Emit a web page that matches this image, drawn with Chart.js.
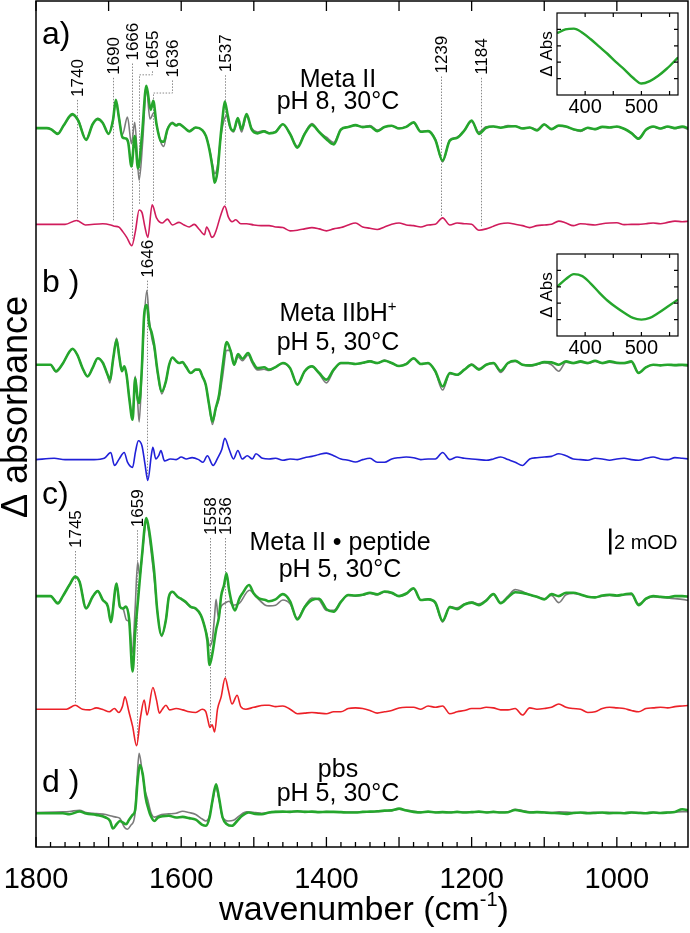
<!DOCTYPE html>
<html>
<head>
<meta charset="utf-8">
<script src="https://cdn.jsdelivr.net/npm/chart.js@4.4.0/dist/chart.umd.min.js"></script>
<style>
  html, body { margin: 0; padding: 0; background: #fff; }
  #wrap { position: relative; width: 690px; height: 933px; }
  canvas { position: absolute; }
</style>
</head>
<body>
<div id="wrap">
  <canvas id="main" width="690" height="933" style="left:0;top:0"></canvas>
  <canvas id="insetA" width="170" height="125" style="left:520px;top:3px"></canvas>
  <canvas id="insetB" width="170" height="125" style="left:520px;top:244px"></canvas>
</div>
<script>
// ---- spectra, in mOD ----
// left part (1800-1479 cm-1): wavenumbers + values, one pair per trace
const aFitWn = [1800,1785,1779,1770,1762,1750,1742,1731,1722,1715,1708,1700,1694,1690,1686,1681,1676,1673,1668.5,1664,1659.5,1654,1648,1642,1638.5,1634,1628,1624,1619,1612,1607,1603,1596,1589,1580,1571,1566,1561,1557,1554,1550,1546,1543,1540,1536,1532,1528,1522,1517,1510,1503,1495,1486,1479];
const aFitAbs = [0,0,-0.1,-0.44,0.2,1.08,0.6,-0.9,0.3,0.69,0.4,-0.44,0.6,2.18,0.9,-0.7,-0.8,-1.1,-2.95,-0.6,-3.1,-0.5,3.25,1.4,2.1,0.3,-1.0,-1.05,-0.1,0.38,0.2,0.3,0.05,-0.25,0.05,-0.15,-0.6,-1.7,-3.0,-4.2,-3.3,-0.8,0.8,2.05,1.0,0.0,-0.2,0.77,-0.1,1.08,-0.1,-0.4,-0.25,-0.4];
const aRawWn = [1800,1785,1779,1770,1762,1750,1742,1731,1722,1715,1708,1700,1694,1690,1686,1681,1674,1668.5,1664,1658,1653,1648,1643,1637.5,1633,1628,1624,1619,1612,1607,1603,1596,1589,1580,1571,1566,1561,1557,1554,1550,1546,1542,1538,1533,1528,1522,1517,1510,1503,1495,1486,1479];
const aRawAbs = [0,0,-0.1,-0.4,0.2,1.0,0.65,-0.85,0.3,0.75,0.4,-0.45,0.6,2.0,0.9,-0.5,0.85,-1.2,0.45,-4.0,-1.0,3.1,0.7,1.2,0.0,-1.1,-1.4,-0.1,0.45,0.25,0.35,0.05,-0.2,0.05,-0.15,-0.6,-1.6,-2.8,-3.5,-2.9,-0.9,0.4,0.95,0.1,-0.3,0.6,-0.3,0.9,0.0,-0.3,-0.2,-0.35];
const aDiffWn = [1800,1760,1744,1732,1708,1697,1692,1686,1680,1675,1668,1663,1658,1654,1650,1646,1640,1634,1626,1619,1612,1603,1596,1589,1582,1575,1568,1565,1561,1558,1555,1552,1545,1540,1535,1530,1525,1518,1510,1500,1490,1479];
const aDiffAbs = [0,0,0.3,-0.05,0.05,-0.05,-0.15,-0.2,-0.6,-1.0,-1.65,-0.5,1.1,0.9,-0.2,-1.0,1.5,0.5,0.1,0.4,-0.05,0.15,-0.05,-0.2,0.0,-0.4,-0.8,-0.2,-0.6,-1.0,-0.9,-0.5,0.8,1.4,0.55,0.2,0.35,0.05,0.05,-0.05,-0.1,-0.1];

const bFitWn = [1800,1780,1772.5,1763,1754,1749.6,1743,1736,1729,1722,1715,1708,1701.4,1698.2,1693.6,1689,1685.4,1681.7,1678.5,1675.3,1671.6,1667,1663.4,1660.2,1657.9,1654.2,1651,1647.3,1644.1,1640.4,1637.2,1632.6,1626.7,1621.2,1616.6,1612,1607.4,1602.8,1598.3,1593.7,1586.8,1580,1575.3,1570.8,1566.2,1561.6,1557,1552.4,1547.8,1543.2,1537.3,1531.8,1527.2,1521.7,1515.7,1507.9,1502,1495.1,1485.9,1479];
const bFitAbs = [0,0,-0.5,0.1,1.0,1.23,0.75,-0.25,-0.9,-0.25,0.5,0.15,-0.77,-1.15,0.5,1.92,0.65,-0.5,-0.13,-0.77,-2.56,-4.23,-1.03,-2.56,-2.95,-0.26,3.85,4.6,3.1,2.4,1.5,-0.5,-2.05,-1.3,0.0,0.56,0.3,0.13,0.2,-0.13,-0.64,-0.38,-0.38,-0.9,-1.54,-3.08,-4.36,-3.33,-2.3,-0.26,1.74,1.03,0.0,0.82,0.46,0.9,0.26,-0.26,-0.2,-0.38];
const bRawAbs = [0,0,-0.56,0.1,1.0,1.2,0.75,-0.25,-0.9,-0.25,0.5,0.15,-0.8,-1.4,0.5,2.05,0.65,-0.5,-0.26,-0.77,-2.5,-4.1,-0.9,-2.7,-4.4,-0.5,3.5,5.7,3.5,2.0,1.3,-0.6,-2.25,-1.3,0.0,0.56,0.3,0.13,0.2,-0.13,-0.64,-0.38,-0.4,-0.9,-1.54,-3.1,-4.6,-3.4,-2.6,-1.0,1.1,1.1,0.0,0.6,0.3,0.75,0.1,-0.4,-0.35,-0.45];
const bDiffWn = [1800,1775,1760,1720,1706,1697,1692,1686,1678.5,1674,1667,1663,1659,1654,1650,1646,1641,1639,1635,1631,1628,1623,1615,1607,1600,1593,1585,1576,1570,1564,1556,1550,1544,1540,1534,1528,1522,1516,1509,1502,1497,1488,1479];
const bDiffAbs = [0,0.1,0,0,0.1,0.55,-0.45,0.0,0.55,-0.2,-0.6,0.6,1.45,1.05,-0.3,-1.6,0.4,0.95,0.05,0.3,0.7,-0.1,0.05,0.0,0.2,0.05,0.15,0.0,-0.2,0.3,-0.45,0.1,0.8,1.64,0.8,0.05,0.7,0.05,0.3,0.05,0.45,0.1,0.05];

const cFitWn = [1800,1780,1770,1763,1754,1746,1740,1731,1722,1715,1708,1701,1697,1689,1684.5,1680,1676,1671.6,1667,1663.4,1659,1654.2,1648,1644,1640,1637,1633,1627,1621,1617,1612,1605,1601,1594,1587,1580,1573,1569,1564,1561,1557,1552,1548,1545,1541,1537.7,1534,1529.5,1526,1520,1515.7,1506.6,1500,1493,1484,1479];
const cFitAbs = [0,0,-0.56,0.0,0.85,1.5,1.1,-0.95,-0.05,0.38,-0.3,-0.8,-2.0,0.97,-0.8,-0.95,-0.8,-1.85,-5.8,-2.8,0.0,3.0,6.0,5.0,3.3,1.75,-1.1,-3.0,-1.8,-0.05,0.33,-0.05,-0.18,-0.44,-0.82,-0.95,-1.46,-2.1,-3.4,-5.3,-4.4,-2.6,-1.6,0.0,0.85,1.75,0.45,-0.7,-1.1,-0.2,0.2,0.85,0.2,-0.18,-0.3,-0.4];
const cRawWn = [1800,1780,1770,1763,1754,1746,1740,1731,1722,1715,1708,1701,1697,1689,1684.5,1680,1675.3,1671.6,1667.5,1663.5,1660,1657,1654,1648,1644,1640,1637,1633,1627,1621,1617,1612,1605,1601,1594,1587,1580,1573,1569,1564,1561,1557,1554,1552,1549,1545,1540,1534,1529,1520,1506,1496,1484,1479];
const cRawAbs = [0,0,-0.5,0.0,0.85,1.45,1.1,-0.9,-0.05,0.4,-0.3,-0.8,-1.9,0.97,-0.8,-1.0,-1.85,-2.0,-4.4,-1.0,2.6,1.5,3.0,5.8,4.6,2.75,1.3,-1.1,-3.1,-1.8,-0.05,0.3,-0.05,-0.2,-0.5,-0.85,-1.0,-1.46,-2.1,-3.1,-3.8,-3.3,-1.5,-0.25,-1.6,-0.8,-0.55,-0.4,-0.7,-0.55,0.45,-0.1,-0.7,-0.75];
const cDiffWn = [1800,1758,1746,1736,1726,1717,1708,1699,1692,1686,1681,1677.5,1672,1667,1661.5,1656,1651,1647,1639,1634,1630,1626,1621,1616,1607,1598,1589,1580,1571,1566,1563,1560.5,1557.5,1554,1550,1545,1539.5,1535,1530,1523,1518,1511,1500,1485,1479];
const cDiffAbs = [0,0,0.3,0,-0.05,0.1,-0.03,-0.2,0.05,-0.25,0.2,0.95,-0.2,-1.3,-2.8,-0.6,0.7,-0.45,1.67,0.7,-0.3,0.0,0.3,-0.05,0.05,-0.05,-0.2,-0.25,0.0,-0.2,-0.9,-1.4,-1.2,-1.75,0.0,0.95,2.4,1.45,0.4,1.07,0.2,0.0,0.15,0.3,0.3];

const dFitWn = [1800,1763,1754,1740,1731,1717,1704,1698,1694,1689,1684.5,1680,1676,1672,1667,1663.5,1660,1657,1653,1649,1645,1642,1637,1632,1617,1607,1598,1589,1580,1571,1566,1561,1557,1552,1548,1543,1537,1530,1523,1516,1507,1498,1489,1479];
const dFitAbs = [0,0,-0.08,0.13,-0.03,-0.13,-0.33,-0.6,-1.18,-0.85,-0.6,-0.73,-0.85,-0.53,-0.13,0.2,2.5,3.7,3.0,1.2,0.3,-0.2,-0.6,-0.33,-0.2,-0.33,-0.28,-0.38,-0.5,-0.9,-0.97,-0.33,0.95,2.23,1.2,-0.33,-0.85,-0.97,-0.6,-0.2,0.05,-0.05,-0.08,0.05];
const dRawWn = [1800,1763,1754,1740,1731,1717,1704,1698,1690,1684.5,1678,1674,1669,1664,1661,1658,1654,1650,1646,1642,1637,1627,1617,1607,1598,1589,1580,1571,1566,1561,1557,1552,1548,1543,1535,1528,1520,1510,1498,1489,1479];
const dRawAbs = [0.05,0.1,0.13,0.23,0.05,-0.03,-0.1,-0.2,-0.3,-0.4,-1.1,-1.23,-0.9,-0.2,2.5,4.6,3.3,1.8,1.0,0.1,-0.3,-0.1,-0.05,0.0,0.15,0.05,-0.1,-0.45,-0.6,-0.2,0.9,1.97,1.1,-0.33,-0.6,-0.55,-0.2,0.1,0.05,0.0,0.05];

// right part (1470-900 cm-1), shared grid
const tailWn = [1470,1460,1450,1440,1430,1420,1410,1400,1390,1380,1370,1360,1350,1340,1330,1320,1310,1300,1290,1280,1270,1260,1250,1240,1230,1220,1210,1200,1190,1180,1170,1160,1150,1140,1130,1120,1110,1100,1090,1080,1070,1060,1050,1040,1030,1020,1010,1000,990,980,970,960,950,940,930,920,910,900];
const aFitTail = [-0.3,0.3,-0.45,-1.5,-0.45,0.25,-0.3,-0.85,-1.25,-0.1, 0.08,0.23,0.08,0.13,-0.23,0.08,0.18,-0.03,0.1,0.44, -0.28,-0.23,-0.9,-2.5,-0.95,-0.75,-0.18,0.59,-0.44,0.03, 0.13,0.03,0.13,0.15,-0.03,0.05,-0.18,0.28,-0.08,0.2, 0.13,-0.08,-0.18,0.03,-0.08,0.1,0.05,0.13,-0.05,-0.38, -0.82,-0.13,0.13,-0.03,0.13,0,0.13,-0.05];
const aRawTail = [-0.25,0.3,-0.45,-1.4,-0.4,0.35,-0.3,-0.7,-1.1,-0.1, 0.1,0.2,0.12,0.2,-0.15,0.1,0.15,0.0,0.12,0.4, -0.25,-0.2,-0.85,-2.6,-0.9,-0.7,-0.15,0.5,-0.3,0.1, 0.15,0.05,0.2,0.15,0.0,0.05,-0.1,0.32,-0.05,0.15, 0.1,-0.1,-0.25,0.0,-0.1,0.08,0.05,0.1,-0.05,-0.35, -0.75,-0.15,0.1,-0.05,0.1,-0.03,0.05,-0.15];
const aDiffTail = [-0.2,-0.25,-0.5,-0.45,-0.35,-0.25,-0.35,-0.5,-0.35,-0.25, -0.05,0.1,-0.2,-0.3,-0.4,-0.2,0.0,0.1,-0.05,-0.1, -0.2,-0.05,0.0,0.5,-0.05,0.1,0.05,0.0,-0.45,-0.35, -0.15,0.05,0.1,0.0,-0.1,-0.25,-0.1,-0.05,0.0,0.25, 0.1,-0.1,0.05,0.0,-0.05,0.05,0.1,0.12,-0.02,0.0, 0.0,0.05,0.1,0.05,0.15,0.25,0.2,0.25];
const bFitTail = [-0.18,0.13,-0.26,-1.54,-0.5,-0.13,-0.64,-1.15,-0.38,0.13, 0.13,0.05,0.15,0.26,0.13,0.3,0.13,-0.1,0.05,0.5, 0.05,0.13,-0.5,-1.67,-0.64,-0.77,-0.38,0.0,-0.38,0.0, 0.13,-0.46,0.13,0.3,0.0,-0.05,0.05,0.2,0.18,0.0, 0.26,0.13,0.26,0.13,0.3,0.13,0.26,0.15,0.13,0.26, -0.64,-0.2,0.0,-0.05,0.0,-0.03,0.0,-0.05];
const bRawTail = [-0.2,0.1,-0.3,-1.5,-0.55,-0.1,-0.7,-1.4,-0.45,0.1, 0.1,0.08,0.12,0.3,0.1,0.35,0.1,-0.1,0.1,0.45, 0.05,0.1,-0.55,-1.95,-0.7,-0.8,-0.4,0.05,-0.3,0.0, 0.1,-0.6,0.1,0.25,0.0,-0.1,0.0,0.15,0.0,-0.5, 0.2,0.1,0.2,0.1,0.25,0.1,0.2,0.1,0.1,0.2, -0.6,-0.2,0.0,-0.05,0.0,-0.05,-0.05,-0.1];
const bDiffTail = [0.1,-0.05,0.05,0.0,0.15,0.25,0.4,0.5,0.3,0.05, -0.05,-0.18,0.0,0.1,-0.2,-0.2,0.05,0.15,0.2,0.15, 0.0,0.05,0.05,0.55,0.0,0.2,0.1,0.05,0.0,-0.05, 0.05,0.2,0.0,-0.2,-0.45,0.05,0.15,0.2,0.25,0.45, 0.3,0.05,0.0,-0.05,0.1,0.05,-0.05,0.05,0.1,0.0, -0.05,0.1,0.2,0.05,0.0,0.15,0.1,0.05];
const cFitTail = [-0.25,0.15,-0.4,-1.8,-0.85,-0.3,-0.2,-1.0,-1.2,-0.45, 0.08,0.05,0.1,0.26,0.13,0.35,0.26,0.0,0.2,0.6, -0.3,-0.25,-0.5,-1.9,-0.85,-1.0,-0.65,-0.5,-0.7,-0.35, 0.15,-0.55,-0.1,0.3,0.25,0.1,-0.05,-0.25,0.15,0.0, 0.26,0.26,0.13,-0.05,-0.1,0.05,0.1,0.05,0.13,0.2, -0.7,-0.2,0.0,-0.05,-0.1,0.0,0.0,-0.05];
const cRawTail = [-0.7,-0.3,-0.6,-1.7,-0.8,-0.15,-0.3,-1.1,-1.1,-0.4, 0.05,0.0,0.08,0.2,0.1,0.3,0.2,0.0,0.15,0.55, -0.3,-0.2,-0.55,-2.0,-0.8,-0.9,-0.6,-0.45,-0.6,-0.3, 0.15,-0.5,0.0,0.5,0.35,0.1,-0.05,-0.2,0.05,-0.5, 0.1,0.2,0.1,-0.05,-0.1,0.0,0.05,0.0,0.1,0.1, -0.6,-0.25,-0.05,-0.1,-0.15,-0.2,-0.25,-0.35];
const cDiffTail = [0.2,0.25,0.0,-0.35,-0.3,-0.25,-0.3,-0.35,-0.2,-0.2, 0.05,0.1,0.05,-0.1,-0.3,-0.2,-0.1,0.1,0.15,0.15, 0.0,0.25,0.15,0.25,-0.35,-0.2,-0.1,0.05,0.05,0.15, 0.1,-0.05,-0.05,0.05,-0.45,0.1,0.0,0.05,0.15,0.4, 0.15,0.05,0.0,-0.25,-0.2,0.05,0.15,0.1,0.05,-0.1, -0.2,0.05,0.1,0.15,0.1,0.2,0.25,0.3];
const dFitTail = [0.1,0.12,0.1,0.15,0.1,0.12,0.08,0.1,0.1,0.08, 0.05,0.05,0.1,0.12,0.15,0.2,0.22,0.35,0.2,0.1, 0.05,0.12,0.05,0.08,0.05,0.1,0.05,0.08,0.12,0.05, 0.1,0.05,0.08,0.25,0.15,0.05,0.08,0.05,0.02,0.0, -0.05,0.02,0.05,0.0,0.02,0.05,0.0,0.02,0.0,0.05, 0.02,0.0,0.05,0.02,0.05,0.1,0.3,0.2];
const dRawTail = [0.12,0.1,0.12,0.12,0.12,0.1,0.1,0.12,0.1,0.1, 0.08,0.08,0.1,0.1,0.12,0.15,0.2,0.3,0.25,0.15, 0.1,0.1,0.08,0.1,0.08,0.08,0.08,0.1,0.1,0.08, 0.1,0.08,0.1,0.3,0.2,0.1,0.1,0.08,0.05,0.1, 0.08,0.05,0.03,0.05,0.06,0.04,0.07,0.05,0.04,0.06, 0.05,0.03,0.06,0.04,0.06,0.08,0.12,0.1];

// UV/vis insets (arbitrary units)
const insetWl = [352,365,380,395,410,425,440,455,470,485,500,515,530,545,564];
const insetAAbs = [0.76,0.80,0.81,0.76,0.68,0.59,0.50,0.40,0.31,0.21,0.14,0.17,0.235,0.32,0.45];
const insetBAbs = [0.61,0.69,0.755,0.73,0.64,0.53,0.43,0.35,0.28,0.22,0.20,0.22,0.28,0.35,0.44];

// x-axis labels
const xTickLabels = [1800, 1600, 1400, 1200, 1000];

// vertical stacking of the traces (mOD above the bottom axis)
const offsets = { aFit: 55.3, aDiff: 47.9, bFit: 37.1, bDiff: 29.8, cFit: 19.3, cDiff: 10.6, dFit: 2.6 };

const GREEN = '#25a62c', GRAY = '#7b7b7b';
const FONT = '"Liberation Sans", Arial, Helvetica, sans-serif';

function trace(wn, abs, tail, base) {
  const pts = wn.map((w, i) => ({ x: w, y: abs[i] + base }));
  tailWn.forEach((w, i) => pts.push({ x: w, y: tail[i] + base }));
  return pts;
}

function line(data, color, width, order) {
  return {
    data: data, borderColor: color, borderWidth: width, order: order,
    pointRadius: 0, fill: false, cubicInterpolationMode: 'monotone',
    borderJoinStyle: 'round', borderCapStyle: 'round'
  };
}

const datasets = [
  line(trace(aFitWn, aFitAbs, aFitTail, offsets.aFit), GREEN, 2.6, 0),
  line(trace(aRawWn, aRawAbs, aRawTail, offsets.aFit), GRAY, 1.6, 1),
  line(trace(aDiffWn, aDiffAbs, aDiffTail, offsets.aDiff), '#d01c5c', 1.6, 1),
  line(trace(bFitWn, bFitAbs, bFitTail, offsets.bFit), GREEN, 2.6, 0),
  line(trace(bFitWn, bRawAbs, bRawTail, offsets.bFit), GRAY, 1.6, 1),
  line(trace(bDiffWn, bDiffAbs, bDiffTail, offsets.bDiff), '#2020d8', 1.6, 1),
  line(trace(cFitWn, cFitAbs, cFitTail, offsets.cFit), GREEN, 2.6, 0),
  line(trace(cRawWn, cRawAbs, cRawTail, offsets.cFit), GRAY, 1.6, 1),
  line(trace(cDiffWn, cDiffAbs, cDiffTail, offsets.cDiff), '#ec2128', 1.6, 1),
  line(trace(dFitWn, dFitAbs, dFitTail, offsets.dFit), GREEN, 2.6, 0),
  line(trace(dRawWn, dRawAbs, dRawTail, offsets.dFit), GRAY, 1.6, 1)
];

// band labels with dotted leader lines (wn, mOD)
const marks = [
  { text: '1740', wn: 1744.0, top: 57.7, bottom: 48.1 },
  { text: '1690', wn: 1693.7, top: 59.4, bottom: 48.1 },
  { text: '1666', wn: 1668.4, top: 60.5, bottom: 46.8 },
  { text: '1655', wn: 1640.9, top: 59.9, elbowY: 59.4, elbowWn: 1657.9, bottom: 49.4 },
  { text: '1636', wn: 1613.3, top: 59.2, elbowY: 58.0, elbowWn: 1638.7, bottom: 49.6 },
  { text: '1537', wn: 1539.6, top: 59.6, bottom: 49.4 },
  { text: '1239', wn: 1241.9, top: 59.5, bottom: 48.5 },
  { text: '1184', wn: 1186.9, top: 59.4, bottom: 47.7 },
  { text: '1646', wn: 1647.7, top: 43.8, bottom: 28.4 },
  { text: '1745', wn: 1746.4, top: 23.0, bottom: 11.1 },
  { text: '1659', wn: 1661.5, top: 24.6, bottom: 7.8 },
  { text: '1558', wn: 1560.7, top: 24.0, bottom: 9.2 },
  { text: '1536', wn: 1539.7, top: 24.0, bottom: 13.0 }
];

function text(ctx, s, x, y, size, align) {
  ctx.font = size + 'px ' + FONT;
  ctx.textAlign = align || 'left';
  ctx.textBaseline = 'alphabetic';
  ctx.fillText(s, x, y);
}

function supText(ctx, base, sup, tail, cx, y, size, supSize, rise) {
  ctx.font = size + 'px ' + FONT;
  const w1 = ctx.measureText(base).width;
  const w3 = tail ? ctx.measureText(tail).width : 0;
  ctx.font = supSize + 'px ' + FONT;
  const w2 = ctx.measureText(sup).width;
  let x = cx - (w1 + w2 + w3) / 2;
  text(ctx, base, x, y, size);
  text(ctx, sup, x + w1, y - rise, supSize);
  if (tail) text(ctx, tail, x + w1 + w2, y, size);
}

const leaders = {
  id: 'leaders',
  beforeDatasetsDraw(chart) {
    const { ctx, scales: { x, y } } = chart;
    ctx.save();
    ctx.strokeStyle = '#8a8a8a';
    ctx.lineWidth = 1;
    ctx.setLineDash([1.5, 1.5]);
    marks.forEach(m => {
      const px = Math.round(x.getPixelForValue(m.wn)) + 0.5;
      ctx.beginPath();
      ctx.moveTo(px, y.getPixelForValue(m.top) + 3);
      if (m.elbowWn) {
        const ey = y.getPixelForValue(m.elbowY);
        const ex = Math.round(x.getPixelForValue(m.elbowWn)) + 0.5;
        ctx.lineTo(px, ey);
        ctx.lineTo(ex, ey);
        ctx.lineTo(ex, y.getPixelForValue(m.bottom));
      } else {
        ctx.lineTo(px, y.getPixelForValue(m.bottom));
      }
      ctx.stroke();
    });
    ctx.restore();
  },
  afterDraw(chart) {
    const { ctx, chartArea: a, scales: { x, y } } = chart;
    ctx.save();
    ctx.fillStyle = '#000';
    ctx.strokeStyle = '#000';
    ctx.lineWidth = 1.5;
    ctx.strokeRect(a.left, a.top, a.right - a.left, a.bottom - a.top);
    ctx.lineWidth = 1.3;
    for (let v = 1800; v > x.min; v -= 20) {
      const px = x.getPixelForValue(v);
      const major = v % 100 === 0;
      ctx.beginPath();
      ctx.moveTo(px, a.bottom);
      ctx.lineTo(px, a.bottom - (major ? 10 : 5));
      if (major) { ctx.moveTo(px, a.top); ctx.lineTo(px, a.top + 10); }
      ctx.stroke();
    }
    // band labels
    marks.forEach(m => {
      ctx.save();
      ctx.translate(x.getPixelForValue(m.wn) + 6, y.getPixelForValue(m.top));
      ctx.rotate(-Math.PI / 2);
      text(ctx, m.text, 0, 0, 17);
      ctx.restore();
    });
    // panel letters and conditions
    text(ctx, 'a)', 42, 44, 32);
    text(ctx, 'b )', 42, 292, 32);
    text(ctx, 'c)', 42, 504, 32);
    text(ctx, 'd )', 42, 792, 32);
    text(ctx, 'Meta II', 338, 87, 25, 'center');
    text(ctx, 'pH 8, 30°C', 338, 109, 25, 'center');
    supText(ctx, 'Meta IIbH', '+', '', 338, 321, 25, 15, 10);
    text(ctx, 'pH 5, 30°C', 338, 350, 25, 'center');
    text(ctx, 'Meta II • peptide', 340, 550, 25, 'center');
    text(ctx, 'pH 5, 30°C', 340, 577, 25, 'center');
    text(ctx, 'pbs', 338, 777, 25, 'center');
    text(ctx, 'pH 5, 30°C', 338, 801, 25, 'center');
    // 2 mOD scale bar
    const barTop = y.getPixelForValue(24.5), barBot = y.getPixelForValue(22.5);
    ctx.fillRect(609, barTop, 2.5, barBot - barTop);
    text(ctx, '2 mOD', 614, 549, 20);
    // axis titles
    supText(ctx, 'wavenumber (cm', '-1', ')', 364, 920, 34, 20, 14);
    ctx.save();
    ctx.translate(27, 407);
    ctx.rotate(-Math.PI / 2);
    text(ctx, 'Δ absorbance', 0, 0, 36, 'center');
    ctx.restore();
    ctx.restore();
  }
};

new Chart(document.getElementById('main'), {
  type: 'line',
  data: { datasets: datasets },
  options: {
    responsive: false,
    animation: false,
    layout: { padding: { left: 36, right: 2, top: 1, bottom: 0 } },
    plugins: { legend: { display: false }, tooltip: { enabled: false } },
    scales: {
      x: {
        type: 'linear', reverse: true, min: 902, max: 1800,
        grid: { display: false }, border: { display: false },
        ticks: {
          autoSkip: false, maxRotation: 0, padding: 8, color: '#000',
          font: { family: FONT, size: 29 },
          callback: v => String(v)
        },
        afterBuildTicks: s => { s.ticks = xTickLabels.map(v => ({ value: v })); },
        afterFit: s => { s.height = 86; s.paddingLeft = 0; s.paddingRight = 0; }
      },
      y: { type: 'linear', min: 0, max: 65.08, display: false }
    }
  },
  plugins: [leaders]
});

// ---- insets ----
const insetFrame = {
  id: 'insetFrame',
  afterDraw(chart) {
    const { ctx, chartArea: a, scales: { x, y } } = chart;
    ctx.save();
    ctx.strokeStyle = '#000';
    ctx.fillStyle = '#000';
    ctx.lineWidth = 1.2;
    ctx.strokeRect(a.left, a.top, a.right - a.left, a.bottom - a.top);
    [400, 450, 500, 550].forEach(v => {
      const px = x.getPixelForValue(v);
      ctx.beginPath();
      ctx.moveTo(px, a.bottom); ctx.lineTo(px, a.bottom - 4);
      ctx.moveTo(px, a.top); ctx.lineTo(px, a.top + 4);
      ctx.stroke();
    });
    [0.2, 0.4, 0.6, 0.8].forEach(v => {
      const py = y.getPixelForValue(v);
      ctx.beginPath();
      ctx.moveTo(a.left, py); ctx.lineTo(a.left + 4, py);
      ctx.moveTo(a.right, py); ctx.lineTo(a.right - 4, py);
      ctx.stroke();
    });
    [400, 500].forEach(v => text(ctx, String(v), x.getPixelForValue(v), a.bottom + 18, 20, 'center'));
    ctx.translate(a.left - 5, (a.top + a.bottom) / 2);
    ctx.rotate(-Math.PI / 2);
    text(ctx, 'Δ Abs', 0, 0, 17, 'center');
    ctx.restore();
  }
};

function inset(id, values, withRaw) {
  const pts = insetWl.map((w, i) => ({ x: w, y: values[i] }));
  const sets = [line(pts, GREEN, 2.4, 0)];
  if (withRaw) sets.push(line(pts, GRAY, 1.2, 1));
  new Chart(document.getElementById(id), {
    type: 'line',
    data: { datasets: sets },
    options: {
      responsive: false,
      animation: false,
      layout: { padding: { left: 37, right: 12, top: 10, bottom: 33 } },
      plugins: { legend: { display: false }, tooltip: { enabled: false } },
      scales: {
        x: { type: 'linear', min: 350, max: 565, display: false },
        y: { type: 'linear', min: 0, max: 1, display: false }
      }
    },
    plugins: [insetFrame]
  });
}
inset('insetA', insetAAbs, true);
inset('insetB', insetBAbs, false);
</script>
</body>
</html>
